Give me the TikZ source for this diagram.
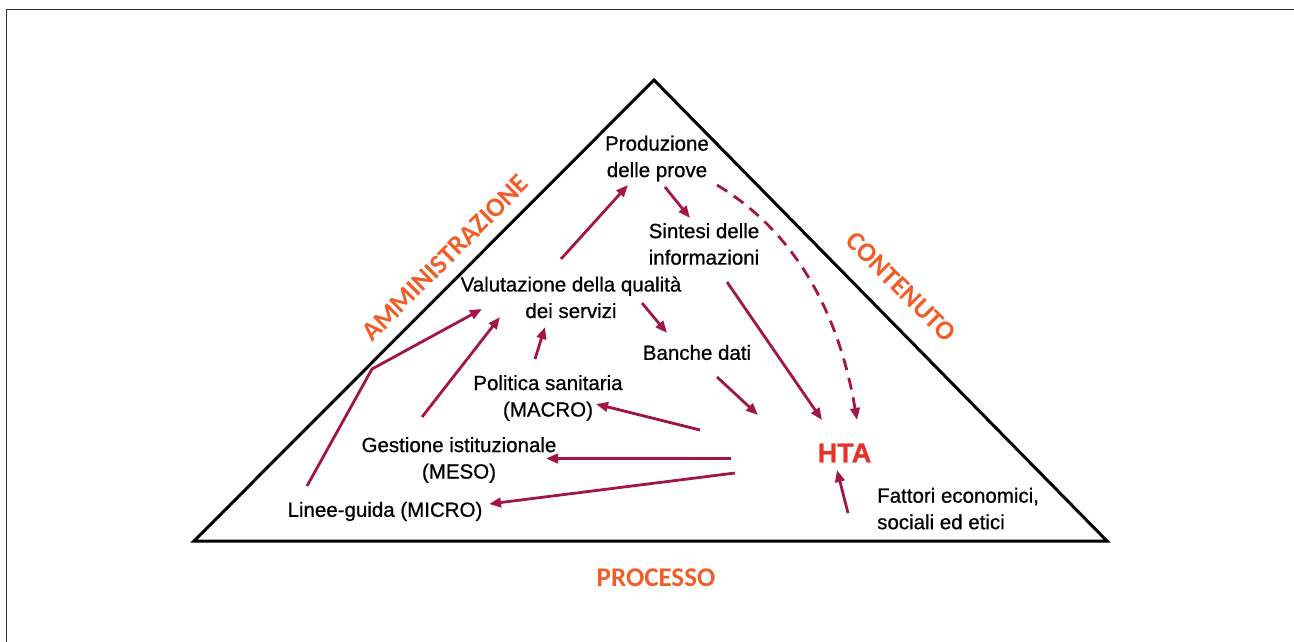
\documentclass[tikz,border=0pt]{standalone}
\usepackage{fontspec}
\setmainfont{Liberation Sans}
\newfontfamily\txtfont{Liberation Sans}[FakeBold=0.7]
\newfontfamily\htafont{Liberation Sans Bold}[FakeBold=1.2]
\newfontfamily\labfont{Carlito}
\usetikzlibrary{arrows.meta}
\definecolor{arr}{RGB}{163,20,75}
\definecolor{lab}{RGB}{242,92,38}
\definecolor{hta}{RGB}{232,50,40}
\begin{document}
\begin{tikzpicture}[x=1pt,y=-1pt,
  txt/.style={font=\txtfont\fontsize{20.5}{26.5}\selectfont, align=center, inner sep=0pt},
  conn/.style={draw=arr, line width=2.8pt, -{Triangle[length=12pt,width=9.5pt]}},
  side/.style={font=\labfont\bfseries\fontsize{27}{30}\selectfont, text=lab, inner sep=0pt}]
\useasboundingbox (0,0) rectangle (1294,642);
% frame
\draw[line width=1.5pt, draw=black!80] (6.5,642) -- (6.5,9.5) -- (1294,9.5);
% triangle
\draw[line width=3pt, line join=miter] (194,541) -- (654,80) -- (1107,541) -- cycle;
% side labels
\node[side, rotate=45] (amm) at (445,258) {AMMINISTRAZIONE};
\node[side, rotate=-45] (con) at (901,287) {CONTENUTO};
\node[side] (pro) at (656,577.5) {PROCESSO};
% text nodes
\node[txt] (prod) at (657,158.5) {Produzione\\delle prove};
\node[txt] (sint) at (704,244) {Sintesi delle\\informazioni};
\node[txt] (valu) at (571,297.3) {Valutazione della qualità\\dei servizi};
\node[txt] (banc) at (697,352.5) {Banche dati};
\node[txt] (poli) at (548,398) {Politica sanitaria\\(MACRO)};
\node[txt] (gest) at (459,460) {Gestione istituzionale\\(MESO)};
\node[txt] (line) at (385,511.5) {Linee-guida (MICRO)};
\node[font=\htafont\fontsize{27}{30}\selectfont, text=hta, inner sep=0pt] (hta) at (844.5,453) {HTA};
\node[txt, align=left, anchor=west] (fatt) at (877,508.6) {Fattori economici,\\sociali ed etici};
% connector end points
\coordinate (a1s) at (561,259);  \coordinate (a1e) at (628,185);
\coordinate (a2s) at (665,187);  \coordinate (a2e) at (690,218);
\coordinate (a3s) at (642,303);  \coordinate (a3e) at (667,333);
\coordinate (a4s) at (727,282);  \coordinate (a4e) at (822,420);
\coordinate (a5s) at (717,185);  \coordinate (a5e) at (857,420);
\coordinate (a6s) at (717,377);  \coordinate (a6e) at (758,415);
\coordinate (a7s) at (700,430);  \coordinate (a7e) at (596,404);
\coordinate (a8s) at (731,458.5);\coordinate (a8e) at (546,458.5);
\coordinate (a9s) at (735,473);  \coordinate (a9e) at (489,504);
\coordinate (a10s) at (848,513); \coordinate (a10e) at (837,470);
\coordinate (a11s) at (307,486); \coordinate (a11m) at (372,369); \coordinate (a11e) at (482,309);
\coordinate (a12s) at (422,417); \coordinate (a12e) at (500,317);
\coordinate (a13s) at (535,359); \coordinate (a13e) at (545,327);
% connectors
\draw[conn] (a1s) -- (a1e);
\draw[conn] (a2s) -- (a2e);
\draw[conn] (a3s) -- (a3e);
\draw[conn] (a4s) -- (a4e);
\draw[conn, dash pattern=on 12pt off 8pt] (a5s) .. controls (800,235) and (840,320) .. (a5e);
\draw[conn] (a6s) -- (a6e);
\draw[conn] (a7s) -- (a7e);
\draw[conn] (a8s) -- (a8e);
\draw[conn] (a9s) -- (a9e);
\draw[conn] (a10s) -- (a10e);
\draw[conn, line join=miter] (a11s) -- (a11m) -- (a11e);
\draw[conn] (a12s) -- (a12e);
\draw[conn] (a13s) -- (a13e);
\end{tikzpicture}
\end{document}
